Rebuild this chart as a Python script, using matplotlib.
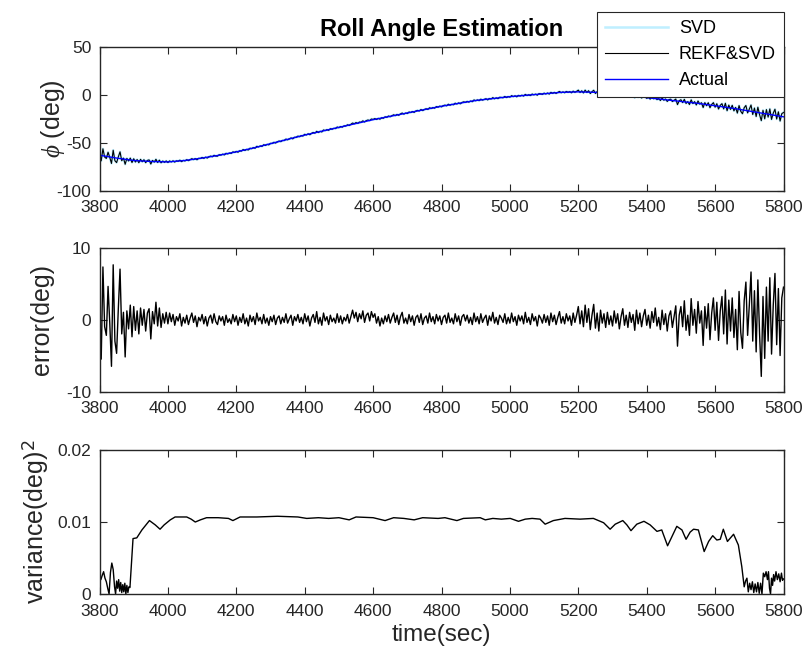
import numpy as np
import matplotlib.pyplot as plt

plt.rcParams['font.family'] = ['Liberation Sans', 'DejaVu Sans']
plt.rcParams['mathtext.fontset'] = 'custom'
plt.rcParams['mathtext.it'] = 'Liberation Serif:italic'
plt.rcParams['axes.unicode_minus'] = False

# actual roll angle (deg), every 50 s
t_act = np.arange(3800, 5801, 50)
actual = [-63, -66, -68.5, -69.5, -70, -68.5, -66, -63, -59.5, -55.5,
          -51, -46.5, -42, -38, -34, -30, -26, -22.5, -19, -15.5,
          -12, -9, -6, -4, -2, -0.5, 1, 2.5, 3, 2.5,
          1, -1, -3, -5, -7, -9, -11.5, -14, -17, -20, -23]

# estimation error (deg), every 5 s
t_err = np.arange(3800, 5801, 5)
error = [
    2.5, -5.5, 7.3, -1.0, -2.2, 4.6, -0.5, -6.5, 7.6, -3.0, -4.7, 1.5, 7.0, -2.0, 1.0, -5.2, 1.2, -1.3, 2.0, -2.4,
    1.8, -1.5, 1.2, -2.0, 1.6, -0.8, 1.4, -1.6, 0.9, 1.5, -2.7, 1.1, -0.6, 2.4, -0.9, 1.6, -1.1, 0.8, -0.5, 1.0,
    -0.6, 0.9, -0.3, 0.7, -0.8, 0.4, -0.2, 0.8, -0.9, 0.3, -0.5, 0.6, -0.7, 0.2, 0.9, -0.4, 0.5, -1.0, 0.3, -0.2,
    0.7, -0.6, 0.4, -0.9, 0.2, 0.6, -0.5, 0.8, -0.3, -0.7, 0.5, -0.2, 0.4, -0.8, 0.6, -0.4, 0.1, -0.6, 0.7, -0.3,
    0.5, -0.8, 0.3, -0.4, 0.8, -0.6, 0.2, -0.9, 0.6, -0.3, 0.4, -0.7, 0.9, -0.2, 0.3, -0.6, 0.7, -0.5, 0.2, -0.8,
    0.4, -0.3, 0.6, -0.7, 0.2, 0.5, -0.6, 0.3, -0.4, 0.8, -0.5, 0.1, 0.6, -0.8, 0.4, -0.2, 0.7, -0.4, 0.3, -0.6,
    0.8, -0.3, 0.5, -0.9, 0.2, 0.7, -0.4, 1.1, -0.6, 0.3, -0.8, 0.9, -0.2, 0.4, -0.7, 0.6, -0.3, 0.2, -0.5, 0.8,
    -0.4, 0.5, -0.6, 0.3, -0.2, 0.7, -0.5, 0.4, 1.3, 0.2, 1.0, -0.3, 0.8, 0.1, 1.2, -0.4, 0.6, 0.9, -0.2, 1.1,
    0.3, 0.8, -0.5, 0.4, -0.9, 0.2, -0.6, 0.5, -0.3, 0.7, -0.5, 0.3, 0.9, -0.4, 0.6, -0.7, 0.4, 1.0, -0.5, 0.2,
    -0.6, 0.7, -0.3, 0.5, -0.8, 0.3, 0.6, -0.4, 0.8, -0.7, 0.2, 0.5, -0.5, 0.9, -0.3, 0.4, -0.6, 0.7, -0.2, 0.5,
    -0.7, 0.3, 0.6, -0.5, 0.9, -0.4, 0.2, -0.6, 0.8, -0.3, 0.5, -0.8, 0.4, 0.7, -0.2, 0.6, -0.5, 0.3, -0.7, 0.9,
    -0.3, 0.4, -0.6, 0.8, -0.4, 0.2, 0.6, -0.8, 0.5, -0.2, 1.0, -0.5, 0.3, -0.7, 0.6, 0.2, -0.4, 0.8, -0.6, 0.3,
    -0.5, 0.9, -0.3, 0.4, -0.8, 0.6, -0.2, 0.5, -0.6, 1.0, -0.4, 0.3, -0.7, 0.8, -0.2, 0.4, -0.9, 0.6, 0.2, -0.5,
    0.7, -0.4, 0.5, -0.8, 0.9, -0.3, 0.6, -0.7, 0.3, 1.1, -0.5, 0.4, -0.6, 0.8, -0.2, 0.5, -0.8, 0.9, -0.4, 0.6,
    1.8, -0.6, 1.2, -1.0, 2.0, -0.4, 1.5, -1.4, 0.6, 2.1, -1.2, 0.9, -1.6, 1.3, -0.5, 0.8, -1.1, 1.0, -0.7, 0.5,
    -0.9, 1.2, -0.5, 0.8, -1.3, 0.4, 1.5, -0.8, 0.6, -1.1, 1.0, -0.4, 0.7, -1.5, 1.3, -0.6, 0.9, -1.0, 0.5, 1.4,
    -0.8, 0.6, -1.2, 1.1, -0.4, 1.6, -0.9, 0.3, -1.4, 1.3, -0.7, 0.8, -1.6, 0.5, 1.2, -1.1, 0.4, 1.9, -3.7, 0.6,
    1.8, -1.0, 2.6, -1.5, 0.6, -2.2, 2.9, -0.8, 1.4, -1.9, 2.5, -0.5, 1.2, -3.6, 1.8, -1.2, 2.2, -2.8, 0.9, 3.0,
    -1.5, 2.4, -2.9, 1.2, 3.2, -2.0, 4.1, -3.4, 2.7, -1.6, 3.0, -2.5, 1.4, -4.2, 3.9, -1.8, -4.0, 2.6, 5.2, -2.2,
    2.0, 6.6, -3.0, 4.0, -4.5, 5.5, -2.0, -7.9, 3.2, -5.4, 4.5, -3.0, 5.8, -4.8, 2.0, 6.4, -3.5, 4.3, -5.0, 3.0,
    4.5,
]

# estimation variance (deg^2)
var_t = [3800, 3804, 3808, 3812, 3816, 3820, 3824, 3828, 3832, 3836, 3840, 3844, 3847, 3850,
         3853, 3856, 3859, 3862, 3865, 3868, 3871, 3874, 3877, 3880, 3883, 3886, 3889, 3893,
         3898, 3909, 3924, 3946, 3963, 3977, 3989, 4007, 4021, 4055, 4068, 4080, 4095, 4113,
         4147, 4177, 4190, 4211, 4260, 4320, 4380, 4406, 4440, 4470, 4500, 4530, 4550, 4600,
         4635, 4660, 4690, 4720, 4745, 4790, 4810, 4845, 4864, 4913, 4928, 4950, 4975, 5001,
         5025, 5045, 5065, 5088, 5103, 5127, 5161, 5205, 5244, 5274, 5293, 5308, 5330, 5342,
         5354, 5371, 5392, 5410, 5430, 5444, 5447, 5461, 5473, 5488, 5503, 5515, 5527, 5537,
         5551, 5568, 5581, 5593, 5605, 5615, 5624, 5636, 5654, 5668, 5678, 5685, 5689, 5693,
         5697, 5701, 5705, 5709, 5713, 5717, 5721, 5725, 5729, 5733, 5737, 5741, 5745, 5749,
         5753, 5756, 5759, 5762, 5765, 5768, 5771, 5774, 5778, 5782, 5786, 5790, 5794, 5797, 5800]
var_v = [0.0024, 0.0020, 0.0026, 0.0031, 0.0022, 0.0017, 0.0008, 0.0, 0.0030, 0.0043, 0.0034, 0.0010, 0.0, 0.0018,
         0.0008, 0.0020, 0.0004, 0.0016, 0.0002, 0.0013, 0.0003, 0.0015, 0.0, 0.0012, 0.0002, 0.0010, 0.0009, 0.0040,
         0.0077, 0.0078, 0.0089, 0.0102, 0.0096, 0.0090, 0.0096, 0.0103, 0.0107, 0.0107, 0.0104, 0.0100, 0.0103, 0.0106,
         0.0106, 0.0105, 0.0102, 0.0107, 0.0107, 0.0108, 0.0107, 0.0105, 0.0106, 0.0105, 0.0106, 0.0103, 0.0107, 0.0106,
         0.0102, 0.0106, 0.0105, 0.0103, 0.0106, 0.0105, 0.0106, 0.0102, 0.0105, 0.0106, 0.0103, 0.0105, 0.0104, 0.0105,
         0.0101, 0.0104, 0.0105, 0.0104, 0.0097, 0.0102, 0.0105, 0.0104, 0.0105, 0.0099, 0.0090, 0.0097, 0.0102, 0.0096,
         0.0088, 0.0097, 0.0101, 0.0096, 0.0087, 0.0089, 0.0085, 0.0067, 0.0079, 0.0094, 0.0089, 0.0076, 0.0086, 0.0090,
         0.0089, 0.0059, 0.0073, 0.0081, 0.0075, 0.0076, 0.0090, 0.0073, 0.0083, 0.0068, 0.0038, 0.0010, 0.0018, 0.0022,
         0.0003, 0.0015, 0.0006, 0.0017, 0.0002, 0.0014, 0.0003, 0.0016, 0.0001, 0.0015, 0.0, 0.0029, 0.0024, 0.0031,
         0.0020, 0.0031, 0.0008, 0.0, 0.0022, 0.0012, 0.0027, 0.0018, 0.0031, 0.0020, 0.0028, 0.0017, 0.0029, 0.0019, 0.0021]

xticks = np.arange(3800, 5801, 200)
gray = '#262626'

fig = plt.figure(figsize=(8.09, 6.62), dpi=100)
left, width, height = 0.123, 0.8455, 0.2175
ax1 = fig.add_axes([left, 0.7119, width, height])
ax2 = fig.add_axes([left, 0.4086, width, height])
ax3 = fig.add_axes([left, 0.1027, width, height])

# estimate = actual + error on the error time grid
est = np.interp(t_err, t_act, actual) + np.array(error)

ax1.plot(t_err, est, color='#bfefff', lw=1.8, label='SVD')
ax1.plot(t_err, est, color='black', lw=0.8, label='REKF&SVD')
ax1.plot(t_act, actual, color='blue', lw=1.0, label='Actual')
ax1.set_ylim(-100, 50)
ax1.set_yticks([-100, -50, 0, 50])
ax1.set_ylabel(r'$\phi$ (deg)', fontsize=18, color=gray)
ax1.yaxis.set_label_coords(-0.047, 0.5)
ax1.set_title('Roll Angle Estimation', fontsize=17, fontweight='bold', pad=8)
leg = ax1.legend(loc='upper right', bbox_to_anchor=(0.969, 0.982),
                 bbox_transform=fig.transFigure, borderaxespad=0, fontsize=13,
                 fancybox=False, framealpha=1, edgecolor=gray,
                 handlelength=3.5, labelspacing=0.5, borderpad=0.45, handletextpad=0.6)
leg.get_frame().set_linewidth(0.8)

ax2.plot(t_err, error, color='black', lw=1.0)
ax2.set_ylim(-10, 10)
ax2.set_yticks([-10, 0, 10])
ax2.set_ylabel('error(deg)', fontsize=18, color=gray)
ax2.yaxis.set_label_coords(-0.066, 0.5)

ax3.plot(var_t, var_v, color='black', lw=1.0)
ax3.set_ylim(0, 0.02)
ax3.set_yticks([0, 0.01, 0.02])
ax3.set_yticklabels(['0', '0.01', '0.02'])
ax3.set_ylabel(r'variance(deg)$^2$', fontsize=18, color=gray)
ax3.yaxis.set_label_coords(-0.071, 0.5)
ax3.set_xlabel('time(sec)', fontsize=17.5, color=gray, labelpad=4)

for ax in (ax1, ax2, ax3):
    ax.set_xlim(3800, 5800)
    ax.set_xticks(xticks)
    ax.tick_params(direction='in', top=True, right=True, length=5, width=0.8,
                   labelsize=12.5, colors=gray)
    ax.tick_params(axis='x', pad=7)
    ax.tick_params(axis='y', pad=6)
    for s in ax.spines.values():
        s.set_color(gray)
        s.set_linewidth(1.0)

fig.savefig('out.png', dpi=100)
